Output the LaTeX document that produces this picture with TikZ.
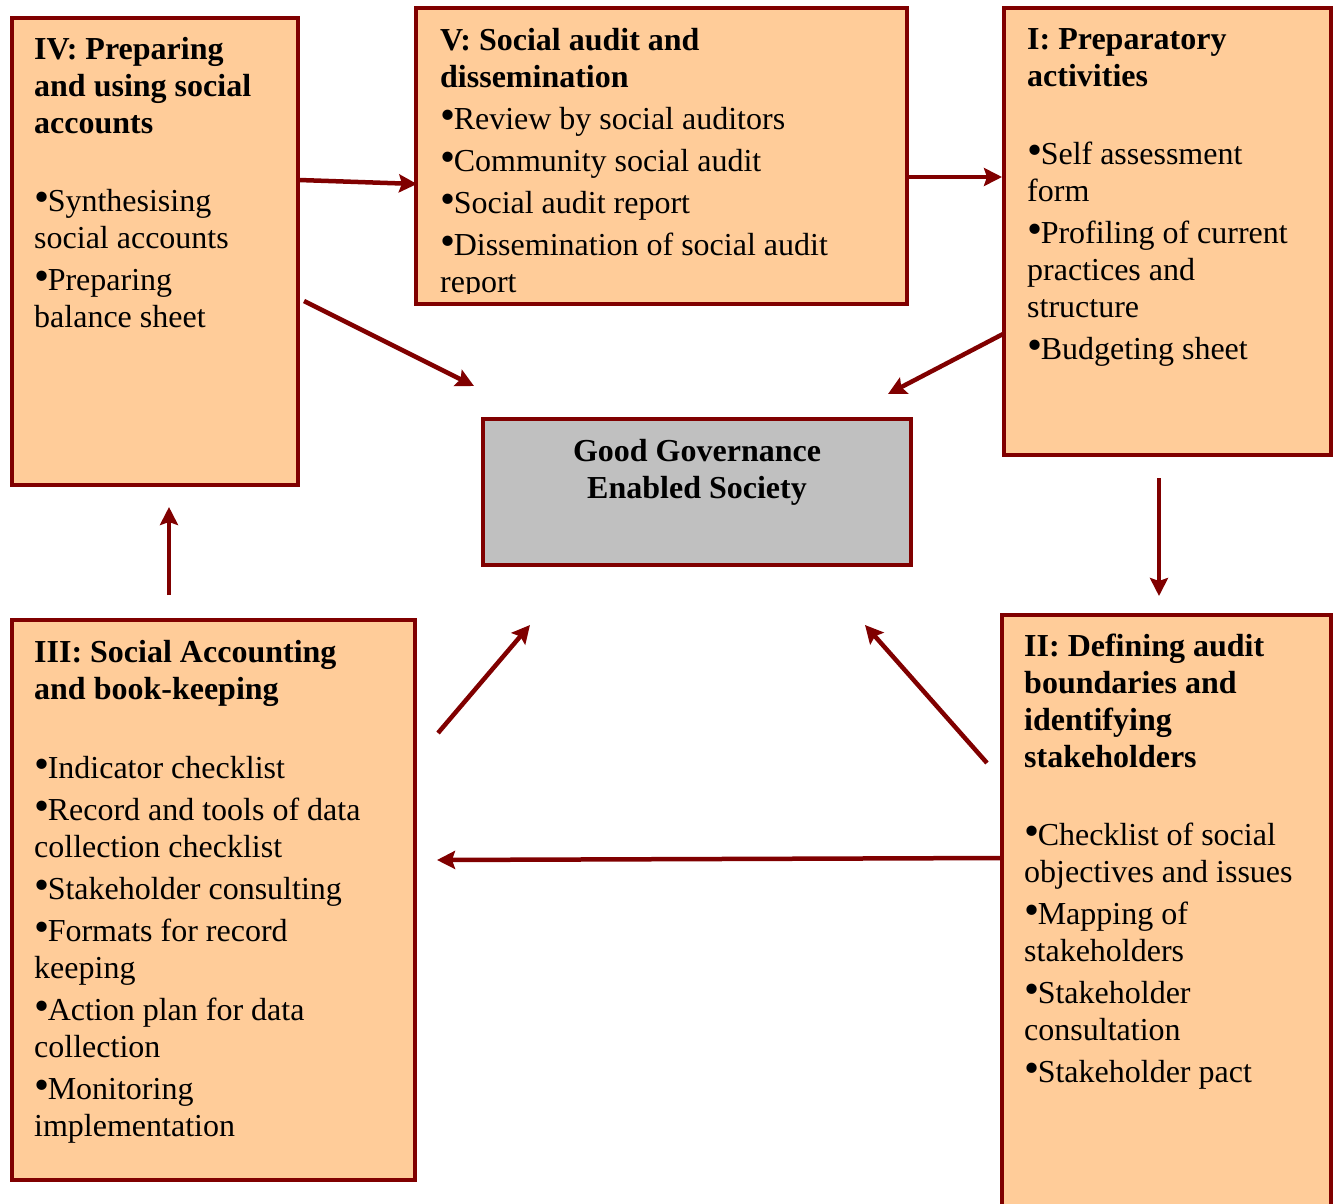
\documentclass[tikz,border=0pt]{standalone}
\usepackage{fontspec}
\setmainfont{Liberation Serif}
\usetikzlibrary{arrows.meta}
\definecolor{boxfill}{HTML}{FFCC99}
\definecolor{boxline}{HTML}{800000}
\definecolor{centerfill}{HTML}{C0C0C0}
\tikzset{
  stagebox/.style={fill=boxfill, draw=boxline, line width=4.5pt},
  centerbox/.style={fill=centerfill, draw=boxline, line width=4.5pt},
  txt/.style={anchor=north west, inner sep=0pt, align=left, font=\fontsize{32}{37}\selectfont},
  flow/.style={draw=boxline, line width=4.5pt, -{Stealth[length=18pt,width=18pt,inset=3pt]}},
}
\newcommand{\bul}{{\fontsize{43}{37}\selectfont\textbullet}\kern-1.5pt}
\begin{document}
\begin{tikzpicture}[x=1pt,y=-1pt]
\useasboundingbox (0,0) rectangle (1338,1204);
% boxes
\draw[stagebox] (12,18) rectangle (298,485);
\draw[stagebox] (416,8) rectangle (907,304);
\draw[stagebox] (1004,8) rectangle (1331,455);
\draw[centerbox] (483,419) rectangle (911,565);
\draw[stagebox] (12,620) rectangle (415,1180);
\fill[boxfill] (1002,615) rectangle (1331,1210);
\draw[boxline, line width=4.5pt] (1002,1210) -- (1002,615) -- (1331,615) -- (1331,1210);
% texts
\node[txt] (tiv) at (34,37) {\textbf{IV: Preparing}\\\textbf{and using social}\\\textbf{accounts}\\[41pt]
\bul Synthesising\\social accounts\\[5pt]\bul Preparing\\balance sheet};
\begin{scope}
\clip (418,10) rectangle (905,293);
\node[txt] (tv) at (440,28) {\textbf{V: Social audit and}\\\textbf{dissemination}\\[5pt]
\bul Review by social auditors\\[5pt]\bul Community social audit\\[5pt]\bul Social audit report\\[5pt]\bul Dissemination of social audit\\report};
\end{scope}
\node[txt] (ti) at (1027,28) {\textbf{I: Preparatory}\\\textbf{activities}\\[41pt]
\bul Self assessment\\form\\[5pt]\bul Profiling of current\\practices and\\structure\\[5pt]\bul Budgeting sheet};
\node[txt, anchor=north, align=center] (tc) at (697,439) {\textbf{Good Governance}\\\textbf{Enabled Society}};
\node[txt] (tiii) at (34,640) {\textbf{III: Social Accounting}\\\textbf{and book-keeping}\\[42pt]
\bul Indicator checklist\\[5pt]\bul Record and tools of data\\collection checklist\\[5pt]\bul Stakeholder consulting\\[5pt]\bul Formats for record\\keeping\\[5pt]\bul Action plan for data\\collection\\[5pt]\bul Monitoring\\implementation};
\node[txt] (tii) at (1024,634) {\textbf{II: Defining audit}\\\textbf{boundaries and}\\\textbf{identifying}\\\textbf{stakeholders}\\[41pt]
\bul Checklist of social\\objectives and issues\\[5pt]\bul Mapping of\\stakeholders\\[5pt]\bul Stakeholder\\consultation\\[5pt]\bul Stakeholder pact};
% arrow endpoints
\coordinate (a1s) at (299,180); \coordinate (a1e) at (417,184);
\coordinate (a2s) at (908,177); \coordinate (a2e) at (1002,177);
\coordinate (a3s) at (1159,478); \coordinate (a3e) at (1159,596);
\coordinate (a4s) at (1001,858); \coordinate (a4e) at (437,860);
\coordinate (a5s) at (169,595); \coordinate (a5e) at (169,507);
\coordinate (a6s) at (304,301); \coordinate (a6e) at (474,386);
\coordinate (a7s) at (1003,334); \coordinate (a7e) at (888,394);
\coordinate (a8s) at (438,733); \coordinate (a8e) at (530,625);
\coordinate (a9s) at (987,763); \coordinate (a9e) at (865,625);
\draw[flow] (a1s) -- (a1e);
\draw[flow] (a2s) -- (a2e);
\draw[flow] (a3s) -- (a3e);
\draw[flow] (a4s) -- (a4e);
\draw[flow] (a5s) -- (a5e);
\draw[flow] (a6s) -- (a6e);
\draw[flow] (a7s) -- (a7e);
\draw[flow] (a8s) -- (a8e);
\draw[flow] (a9s) -- (a9e);
\end{tikzpicture}
\end{document}
